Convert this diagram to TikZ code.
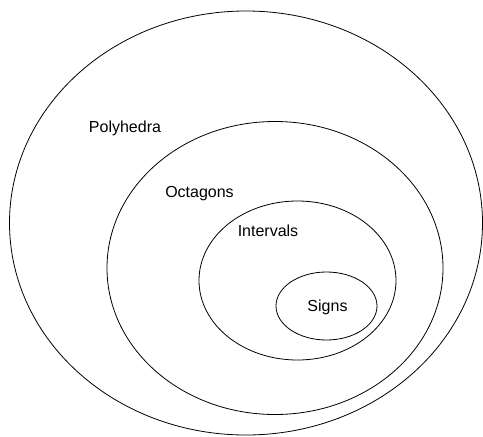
\documentclass[tikz,border=0pt]{standalone}
\usepackage{fontspec}
\setmainfont{Liberation Sans}
\usetikzlibrary{shapes.geometric}
\begin{document}
\begin{tikzpicture}[x=1pt,y=-1pt,
  setring/.style={ellipse, draw=black, line width=0.8pt, inner sep=0pt},
  setlabel/.style={font=\fontsize{16}{18}\selectfont, inner sep=0pt}]
\useasboundingbox[fill=white] (0,0) rectangle (483,437);
\node[setring, minimum width=473pt, minimum height=424pt] (poly) at (246,223) {};
\node[setring, minimum width=336pt, minimum height=293pt] (oct) at (275,268) {};
\node[setring, minimum width=197pt, minimum height=159pt] (intv) at (297.5,280.5) {};
\node[setring, minimum width=101pt, minimum height=68pt] (sign) at (326.5,306) {};
\node[setlabel] (tpoly) at (125,128) {Polyhedra};
\node[setlabel] (toct) at (199.5,194) {Octagons};
\node[setlabel] (tintv) at (268,231) {Intervals};
\node[setlabel] (tsign) at (327.5,307) {Signs};
\end{tikzpicture}
\end{document}
